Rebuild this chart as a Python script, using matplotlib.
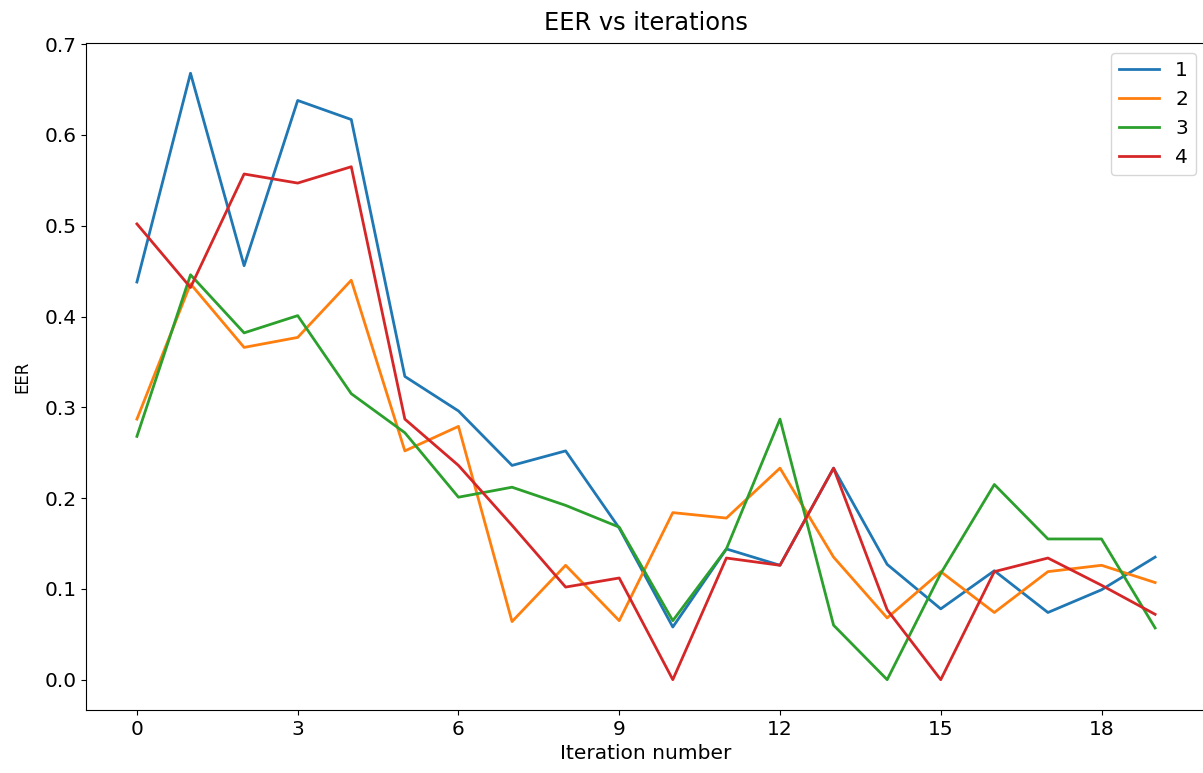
import matplotlib
matplotlib.use("Agg")
import matplotlib.pyplot as plt

plt.rcParams["font.size"] = 14.5

iterations = list(range(20))

eer_1 = [0.438, 0.668, 0.456, 0.638, 0.617, 0.334, 0.296, 0.236, 0.252, 0.167,
         0.058, 0.144, 0.126, 0.233, 0.127, 0.078, 0.120, 0.074, 0.099, 0.135]
eer_2 = [0.287, 0.436, 0.366, 0.377, 0.440, 0.252, 0.279, 0.064, 0.126, 0.065,
         0.184, 0.178, 0.233, 0.135, 0.068, 0.119, 0.074, 0.119, 0.126, 0.107]
eer_3 = [0.268, 0.446, 0.382, 0.401, 0.315, 0.272, 0.201, 0.212, 0.192, 0.168,
         0.065, 0.144, 0.287, 0.060, 0.000, 0.117, 0.215, 0.155, 0.155, 0.057]
eer_4 = [0.502, 0.432, 0.557, 0.547, 0.565, 0.287, 0.236, 0.170, 0.102, 0.112,
         0.000, 0.134, 0.126, 0.233, 0.077, 0.000, 0.119, 0.134, 0.104, 0.072]

series = [eer_1, eer_2, eer_3, eer_4]
labels = ["1", "2", "3", "4"]

fig = plt.figure(figsize=(12.03, 7.73), dpi=100)
ax = fig.add_axes([0.0715, 0.0815, 0.931, 0.863])

for vals, lab in zip(series, labels):
    ax.plot(iterations, vals, label=lab, linewidth=2)

ax.xaxis.set_major_locator(matplotlib.ticker.MultipleLocator(3))
ax.set_xlabel("Iteration number")
ax.set_ylabel("EER", fontsize=12, labelpad=9)
ax.set_title("EER vs iterations", pad=9)
ax.legend(loc="upper right")
# the source image is cut off right at the frame edge
ax.spines["right"].set_visible(False)

fig.savefig("out.png", dpi=100)
